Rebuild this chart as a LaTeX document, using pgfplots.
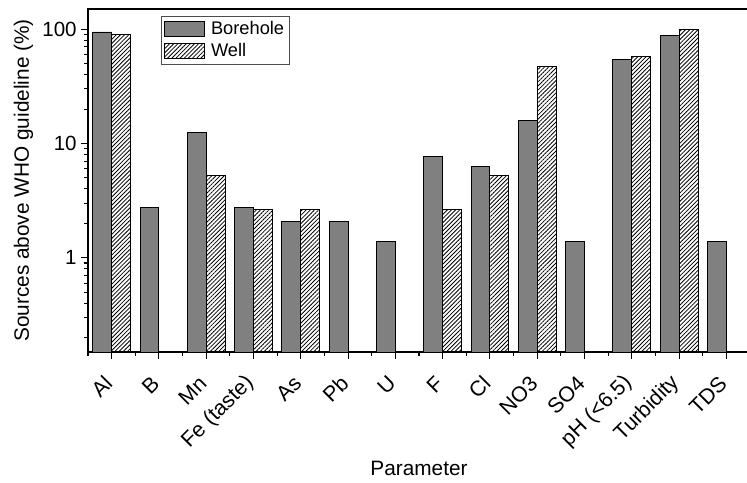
\documentclass[border=0pt]{standalone}
\usepackage{pgfplots}
\pgfplotsset{compat=1.18}
\usepackage{fontspec}
\setmainfont{Liberation Sans}
\usetikzlibrary{patterns.meta}
\definecolor{barg}{RGB}{128,128,128}
\begin{document}
\begin{tikzpicture}
\begin{axis}[name=ax, scale only axis, width=496.5pt, height=257.25pt,
 ymode=log, log origin=infty, ymin=0.15, ymax=150,
 xmin=-0.5, xmax=13.5,
 xtick={0,...,13},
 xticklabels={Al,B,Mn,Fe (taste),As,Pb,U,F,Cl,NO3,SO4,pH (<6.5),Turbidity,TDS},
 minor xtick={-0.5,0.5,...,13.5},
 xtick pos=bottom, ytick pos=left, tick align=outside,
 major tick length=5pt, minor tick length=3pt,
 log ticks with fixed point,
 /pgf/number format/assume math mode=true,
 tick label style={font=\fontsize{15.4}{18}\selectfont},
 label style={font=\fontsize{15.6}{18}\selectfont},
 xticklabel style={font=\fontsize{16}{18}\selectfont, yshift=-13.5pt, rotate=45, anchor=east},
 xlabel={Parameter}, xlabel style={yshift=1pt},
 ylabel={Sources above WHO guideline (\%)},
 axis line style={line width=0.8pt},
 every tick/.style={black, line width=0.8pt},
 legend style={at={(0.110,0.98)}, anchor=north west, font=\fontsize{13.7}{16}\selectfont, draw=black!70, line width=0.6pt, row sep=1pt, inner sep=2pt},
 legend cell align=left,
 legend image code/.code={\draw[#1] (0pt,-5.5pt) rectangle (30pt,5.5pt); \path[draw=none,fill=none] (0pt,0pt) -- (33pt,0pt);},
]
\addplot[ybar, bar width=0.4, bar shift=-0.2, fill=barg, draw=black, line width=0.7pt]
 coordinates {(0,94.4) (1,2.78) (2,12.5) (3,2.78) (4,2.08) (5,2.08) (6,1.39) (7,7.64) (8,6.25) (9,15.97) (10,1.39) (11,54.2) (12,87.5) (13,1.39)};
\addlegendentry{Borehole}
\addplot[ybar, bar width=0.4, bar shift=0.2, pattern={Lines[angle=45,distance=2.2pt,line width=0.6pt]}, draw=black, line width=0.7pt]
 coordinates {(0,89.5) (2,5.26) (3,2.63) (4,2.63) (7,2.63) (8,5.26) (9,47.4) (11,57.9) (12,100)};
\addlegendentry{Well}
\end{axis}
\pgfresetboundingbox
\useasboundingbox ([xshift=-66pt,yshift=-98.25pt]ax.south west) rectangle ([xshift=494.25pt,yshift=6.75pt]ax.north west);
\end{tikzpicture}
\end{document}
